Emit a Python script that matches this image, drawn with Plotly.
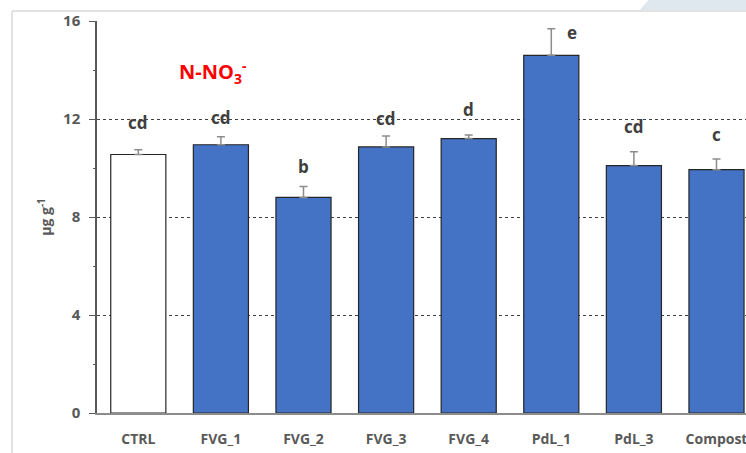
import plotly.graph_objects as go

categories = ["CTRL", "FVG_1", "FVG_2", "FVG_3", "FVG_4", "PdL_1", "PdL_3", "Compost"]
values = [10.55, 10.95, 8.8, 10.86, 11.2, 14.6, 10.1, 9.93]
errors = [0.2, 0.33, 0.45, 0.45, 0.15, 1.08, 0.56, 0.44]
letters = ["cd", "cd", "b", "cd", "d", "e", "cd", "c"]
y_ticks = [0, 4, 8, 12, 16]

# label placement tweaks (pixels): distance of letter centre above error-bar top
letter_yshift = [27, 19, 20, 17, 25, -4, 25, 24]
letter_xshift = [0, 0, 0, 0, 0, 21, 0, 0]

fills = ["#FFFFFF"] + ["#4472C4"] * (len(categories) - 1)

W, H = 746, 453
ml, mr, mt, mb = 97, 0, 21, 40
pw = W - ml - mr
ph = H - mt - mb

fig = go.Figure()
fig.add_trace(go.Bar(
    x=categories, y=values,
    marker=dict(color=fills, line=dict(color="#262626", width=1.2)),
    error_y=dict(type="data", symmetric=False, array=errors,
                 arrayminus=[0] * len(errors), color="#8c8c8c",
                 thickness=1.5, width=4),
    showlegend=False,
))

grey = "#595959"
font_fam = "Open Sans, Noto Sans, sans-serif"

annotations = []
for i, (c, v, e, t) in enumerate(zip(categories, values, errors, letters)):
    annotations.append(dict(
        x=c, y=v + e, xref="x", yref="y", text="<b>%s</b>" % t,
        showarrow=False, yanchor="middle", xanchor="center",
        yshift=letter_yshift[i], xshift=letter_xshift[i],
        font=dict(family=font_fam, size=17, color="#404040"),
    ))

annotations.append(dict(
    x=(213 - ml) / pw, y=(H - mb - 72) / ph, xref="paper", yref="paper",
    xanchor="center", yanchor="middle",
    text="<b>N-NO<sub>3</sub><sup>-</sup></b>", showarrow=False,
    font=dict(family=font_fam, size=20, color="#FF0000"),
))

shapes = [
    dict(type="line", xref="paper", yref="paper",
         x0=(12 - ml) / pw, x1=(12 - ml) / pw, y0=-(mb + 5) / ph, y1=(H - mb - 11) / ph,
         line=dict(color="#d9d9d9", width=1.5)),
    dict(type="line", xref="paper", yref="paper",
         x0=(12 - ml) / pw, x1=1.05, y0=(H - mb - 11) / ph, y1=(H - mb - 11) / ph,
         line=dict(color="#d9d9d9", width=1.5)),
    dict(type="path", xref="paper", yref="paper",
         path="M %f %f L %f %f L %f %f L %f %f Z" % (
             (640 - ml) / pw, (H - mb - 10) / ph,
             (650 - ml) / pw, (H - mb + 2) / ph,
             1.05, (H - mb + 2) / ph,
             1.05, (H - mb - 10) / ph),
         fillcolor="#dfe7ef", line=dict(width=0), layer="below"),
]

fig.update_layout(
    width=W, height=H,
    margin=dict(l=ml, r=mr, t=mt, b=mb),
    plot_bgcolor="white", paper_bgcolor="white",
    bargap=0.333,
    annotations=annotations,
    shapes=shapes,
    font=dict(family=font_fam, color=grey),
    xaxis=dict(
        range=[-0.5, -0.5 + pw / 82.6],
        showline=True, linecolor="#8c8c8c", linewidth=1.5,
        ticks="", showgrid=False, zeroline=False,
        tickfont=dict(family=font_fam, size=14, color=grey, weight="bold"),
        ticklabelstandoff=12,
    ),
    yaxis=dict(
        range=[0, 16], tickvals=y_ticks, ticktext=[str(t) for t in y_ticks],
        showline=True, linecolor="#595959", linewidth=1.5,
        ticks="outside", ticklen=6, tickcolor="#595959", tickwidth=1.2,
        minor=dict(ticks="outside", ticklen=2, dtick=2, tickcolor="#595959", showgrid=False),
        showgrid=True, gridcolor="#404040", griddash="dot", gridwidth=1,
        zeroline=False,
        tickfont=dict(family=font_fam, size=15, color=grey, weight="bold"),
        ticklabelstandoff=6,
        title=dict(text="<b>µg g<sup>-1</sup></b>", standoff=8,
                   font=dict(family=font_fam, size=14, color=grey)),
    ),
)

fig.write_html("out.html", config={"displayModeBar": False},
               post_script="document.body.style.margin='0px';document.body.style.overflow='hidden';")
